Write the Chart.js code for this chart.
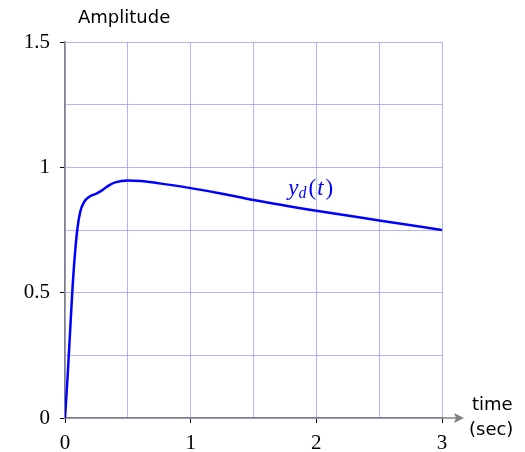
<!DOCTYPE html>
<html lang="en">
<head>
    <meta charset="UTF-8">
    <title>Amplitude response</title>
    <script src="https://cdn.jsdelivr.net/npm/chart.js"></script>
    <style>
        html, body { margin: 0; padding: 0; background: #fff; }
        #chartContainer { width: 525px; height: 452px; }
    </style>
</head>
<body>
    <div id="chartContainer">
        <canvas id="ampChart" width="525" height="452"></canvas>
    </div>

    <script>
        // values
        const timeValues = [0, 0.02, 0.04, 0.06, 0.08, 0.1, 0.12, 0.15, 0.2, 0.25, 0.3, 0.35, 0.4, 0.5, 0.6, 0.75, 1, 1.25, 1.5, 2, 2.5, 3];
        const ydValues = [0, 0.16, 0.34, 0.52, 0.66, 0.76, 0.82, 0.86, 0.885, 0.895, 0.91, 0.928, 0.94, 0.947, 0.945, 0.936, 0.917, 0.895, 0.870, 0.827, 0.788, 0.75];
        const xTickLabels = [0, 1, 2, 3];
        const yTickLabels = [0, 0.5, 1, 1.5];
        const seriesLabel = 'y';
        const labelPos = { x: 2.0, y: 0.915 };

        const points = timeValues.map((t, i) => ({ x: t, y: ydValues[i] }));

        const serif = '"Liberation Serif", "DejaVu Serif", serif';
        const sans = '"DejaVu Sans", sans-serif';

        // extra drawing: axis titles, arrow, curve label
        const decorations = {
            id: 'decorations',
            afterDraw(chart) {
                const ctx = chart.ctx;
                const area = chart.chartArea;
                const xs = chart.scales.x, ys = chart.scales.y;
                ctx.save();

                // x axis arrow beyond the plot
                ctx.strokeStyle = '#808080';
                ctx.fillStyle = '#808080';
                ctx.lineWidth = 1.5;
                ctx.beginPath();
                ctx.moveTo(area.right, area.bottom);
                ctx.lineTo(area.right + 14, area.bottom);
                ctx.stroke();
                ctx.beginPath();
                ctx.moveTo(area.right + 22, area.bottom);
                ctx.lineTo(area.right + 12, area.bottom - 5);
                ctx.lineTo(area.right + 14, area.bottom);
                ctx.lineTo(area.right + 12, area.bottom + 5);
                ctx.closePath();
                ctx.fill();

                ctx.fillStyle = '#000';
                ctx.font = '18px ' + sans;
                ctx.textBaseline = 'middle';
                ctx.textAlign = 'left';
                ctx.fillText('Amplitude', 78, 18);
                ctx.fillText('time', 472, 405);
                ctx.fillText('(sec)', 469, 430);

                // curve label y_d(t)
                const lx = xs.getPixelForValue(labelPos.x);
                const ly = ys.getPixelForValue(labelPos.y);
                ctx.fillStyle = '#0000ff';
                ctx.textAlign = 'left';
                ctx.font = 'italic 23px ' + serif;
                let w = ctx.measureText(seriesLabel).width;
                let x0 = lx - 28;
                ctx.fillText(seriesLabel, x0, ly);
                ctx.font = 'italic 16px ' + serif;
                ctx.fillText('d', x0 + w, ly + 5);
                let w2 = ctx.measureText('d').width;
                ctx.font = '23px ' + serif;
                ctx.fillText('(', x0 + w + w2 + 2, ly);
                let w3 = ctx.measureText('(').width;
                ctx.font = 'italic 23px ' + serif;
                ctx.fillText('t', x0 + w + w2 + 2 + w3 + 1, ly);
                let w4 = ctx.measureText('t').width;
                ctx.font = '23px ' + serif;
                ctx.fillText(')', x0 + w + w2 + 2 + w3 + w4 + 3, ly);

                ctx.restore();
            }
        };

        const ctx = document.getElementById('ampChart').getContext('2d');
        new Chart(ctx, {
            type: 'line',
            data: {
                datasets: [{
                    label: 'yd(t)',
                    data: points,
                    borderColor: '#0000ff',
                    borderWidth: 2.5,
                    pointRadius: 0,
                    cubicInterpolationMode: 'monotone',
                    fill: false
                }]
            },
            options: {
                responsive: false,
                animation: false,
                layout: { padding: { left: 0, top: 42, right: 83, bottom: 0 } },
                plugins: {
                    legend: { display: false },
                    tooltip: { enabled: false }
                },
                scales: {
                    x: {
                        type: 'linear',
                        min: 0,
                        max: 3,
                        afterFit: s => { s.height = 34; },
                        ticks: {
                            stepSize: 0.5,
                            autoSkip: false,
                            maxRotation: 0,
                            padding: 8,
                            color: '#000',
                            font: { family: serif, size: 21 },
                            callback: v => xTickLabels.includes(v) ? String(v) : ''
                        },
                        grid: {
                            color: 'rgba(160,160,255,0.8)',
                            lineWidth: 1,
                            tickLength: 5,
                            tickColor: c => xTickLabels.includes(c.tick && c.tick.value) ? '#000' : 'rgba(0,0,0,0)'
                        },
                        border: { color: '#808080', width: 1.5 }
                    },
                    y: {
                        min: 0,
                        max: 1.5,
                        afterFit: s => { s.width = 65; },
                        ticks: {
                            stepSize: 0.25,
                            autoSkip: false,
                            padding: 10,
                            color: '#000',
                            font: { family: serif, size: 21 },
                            callback: v => yTickLabels.includes(v) ? String(v) : ''
                        },
                        grid: {
                            color: 'rgba(160,160,255,0.8)',
                            lineWidth: 1,
                            tickLength: 5,
                            tickColor: c => yTickLabels.includes(c.tick && c.tick.value) ? '#000' : 'rgba(0,0,0,0)'
                        },
                        border: { color: '#808080', width: 1.5 }
                    }
                }
            },
            plugins: [decorations]
        });
    </script>
</body>
</html>
